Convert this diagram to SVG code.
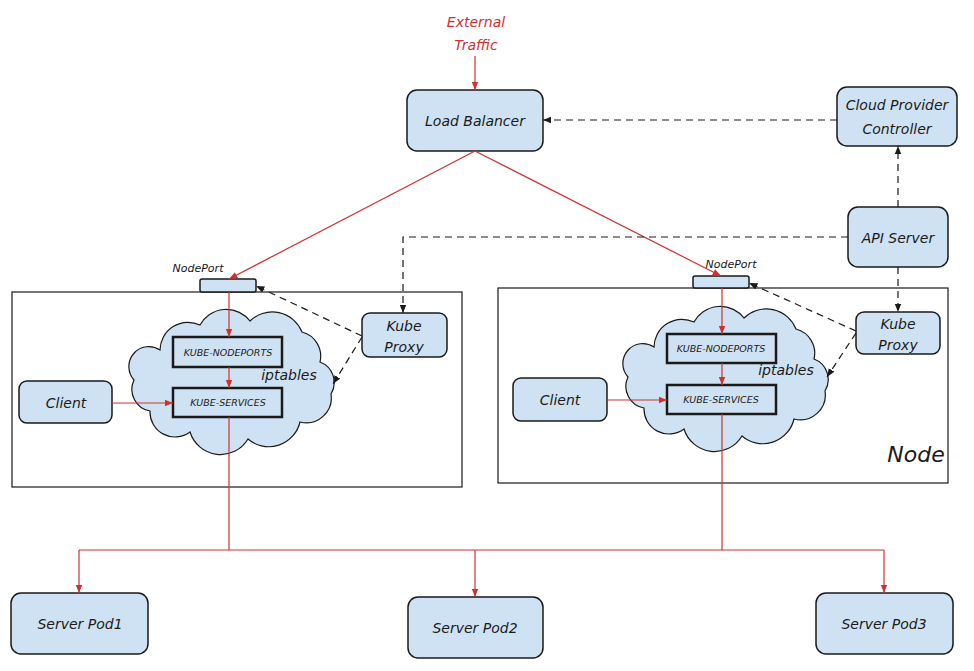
<svg xmlns="http://www.w3.org/2000/svg" width="974" height="671" viewBox="0 0 974 671">
<style>
.box{fill:#cfe2f3;stroke:#1a1a1a;stroke-width:1.5}
.chain{fill:#cfe2f3;stroke:#1a1a1a;stroke-width:2.5}
.frame{fill:none;stroke:#1a1a1a;stroke-width:1.2}
.cloud{fill:#cfe2f3;stroke:#1a1a1a;stroke-width:1.2}
.t{font-family:"DejaVu Sans","Liberation Sans",sans-serif;font-style:italic;font-size:14px;fill:#1a1a1a;text-anchor:middle}
.s{font-size:9.5px}
.red{stroke:#d03030;stroke-width:1.2;fill:none}
.dash{stroke:#1a1a1a;stroke-width:1.2;fill:none;stroke-dasharray:7 5}
</style>
<defs>
<marker id="ar" viewBox="0 0 10 10" refX="10" refY="5" markerWidth="7" markerHeight="7" orient="auto"><path d="M0 1 L10 5 L0 9 Z" fill="#d03030"/></marker>
<marker id="ak" viewBox="0 0 10 10" refX="10" refY="5" markerWidth="7" markerHeight="7" orient="auto"><path d="M0 1 L10 5 L0 9 Z" fill="#1a1a1a"/></marker>
<path id="cloudshape" d="M 160 350 A 28 28 0 0 1 200 325 A 30 30 0 0 1 250 321 A 32 32 0 0 1 302 332 A 25 25 0 0 1 320 362 A 22 22 0 0 1 331 394 A 25 25 0 0 1 300 422 A 32 32 0 0 1 248 439 A 32 32 0 0 1 190 432 A 25 25 0 0 1 150 411 A 22 22 0 0 1 134 380 A 20 20 0 0 1 160 350 Z"/>
</defs>

<g id="node-left-frame"><rect class="frame" x="12" y="292" width="450" height="195"/></g>
<g id="node-right-frame"><rect class="frame" x="498" y="288" width="450" height="195"/><text class="t" x="916" y="462" style="font-size:22px">Node</text></g>

<g id="external-traffic"><text class="t" x="476" y="27" fill="#d03030" style="fill:#d03030">External</text><text class="t" x="476" y="50" style="fill:#d03030">Traffic</text></g>

<g id="load-balancer"><rect class="box" x="407" y="90" width="136" height="61" rx="10"/><text class="t" x="475" y="126">Load Balancer</text></g>
<g id="cloud-provider"><rect class="box" x="837" y="87" width="120" height="59" rx="10"/><text class="t" x="897" y="110">Cloud Provider</text><text class="t" x="897" y="134">Controller</text></g>
<g id="api-server"><rect class="box" x="848" y="207" width="100" height="60" rx="10"/><text class="t" x="898" y="243">API Server</text></g>

<g id="left-nodeport"><rect class="box" x="200" y="279" width="56" height="13" rx="2"/><text class="t" x="198" y="272" style="font-size:11px">NodePort</text></g>
<g id="left-cloud"><use href="#cloudshape" class="cloud"/><text class="t" x="289" y="380">iptables</text></g>
<g id="left-kube-nodeports"><rect class="chain" x="173" y="337" width="109" height="30"/><text class="t s" x="228" y="356">KUBE-NODEPORTS</text></g>
<g id="left-kube-services"><rect class="chain" x="173" y="388" width="109" height="29"/><text class="t s" x="228" y="406">KUBE-SERVICES</text></g>
<g id="left-client"><rect class="box" x="19" y="381" width="93" height="42" rx="8"/><text class="t" x="66" y="408">Client</text></g>
<g id="left-kube-proxy"><rect class="box" x="362" y="313" width="85" height="44" rx="8"/><text class="t" x="404" y="331">Kube</text><text class="t" x="404" y="352">Proxy</text></g>

<g id="right-nodeport"><rect class="box" x="693" y="276" width="56" height="12" rx="2"/><text class="t" x="731" y="268" style="font-size:11px">NodePort</text></g>
<g id="right-cloud"><use href="#cloudshape" class="cloud" transform="translate(494,-3)"/><text class="t" x="786" y="375">iptables</text></g>
<g id="right-kube-nodeports"><rect class="chain" x="667" y="334" width="109" height="29"/><text class="t s" x="721" y="352">KUBE-NODEPORTS</text></g>
<g id="right-kube-services"><rect class="chain" x="667" y="385" width="109" height="29"/><text class="t s" x="721" y="403">KUBE-SERVICES</text></g>
<g id="right-client"><rect class="box" x="513" y="378" width="94" height="43" rx="8"/><text class="t" x="560" y="405">Client</text></g>
<g id="right-kube-proxy"><rect class="box" x="856" y="312" width="84" height="42" rx="8"/><text class="t" x="898" y="329">Kube</text><text class="t" x="898" y="350">Proxy</text></g>

<g id="server-pod1"><rect class="box" x="11" y="593" width="137" height="61" rx="10"/><text class="t" x="80" y="629">Server Pod1</text></g>
<g id="server-pod2"><rect class="box" x="408" y="597" width="135" height="61" rx="10"/><text class="t" x="475" y="633">Server Pod2</text></g>
<g id="server-pod3"><rect class="box" x="816" y="593" width="137" height="61" rx="10"/><text class="t" x="884" y="629">Server Pod3</text></g>

<g id="connectors">
<path class="red" d="M475 56 L475 90" marker-end="url(#ar)"/>
<path class="red" d="M475 151 L229 279" marker-end="url(#ar)"/>
<path class="red" d="M475 151 L721 276" marker-end="url(#ar)"/>
<path class="red" d="M229 292 L229 337" marker-end="url(#ar)"/>
<path class="red" d="M229 367 L229 388" marker-end="url(#ar)"/>
<path class="red" d="M112 403 L173 403" marker-end="url(#ar)"/>
<path class="red" d="M229 417 L229 550"/>
<path class="red" d="M722 288 L722 334" marker-end="url(#ar)"/>
<path class="red" d="M722 363 L722 385" marker-end="url(#ar)"/>
<path class="red" d="M607 400 L667 400" marker-end="url(#ar)"/>
<path class="red" d="M722 414 L722 550"/>
<path class="red" d="M79 550 L884 550"/>
<path class="red" d="M79 550 L79 593" marker-end="url(#ar)"/>
<path class="red" d="M475 550 L475 597" marker-end="url(#ar)"/>
<path class="red" d="M884 550 L884 593" marker-end="url(#ar)"/>
<path class="dash" d="M837 120 L543 120" marker-end="url(#ak)"/>
<path class="dash" d="M898 207 L898 146" marker-end="url(#ak)"/>
<path class="dash" d="M848 237 L403 237 L403 313" marker-end="url(#ak)"/>
<path class="dash" d="M898 267 L898 312" marker-end="url(#ak)"/>
<path class="dash" d="M362 336 L256 286" marker-end="url(#ak)"/>
<path class="dash" d="M362 337 L333 384" marker-end="url(#ak)"/>
<path class="dash" d="M856 331 L749 283" marker-end="url(#ak)"/>
<path class="dash" d="M856 333 L827 377" marker-end="url(#ak)"/>
</g>
</svg>
